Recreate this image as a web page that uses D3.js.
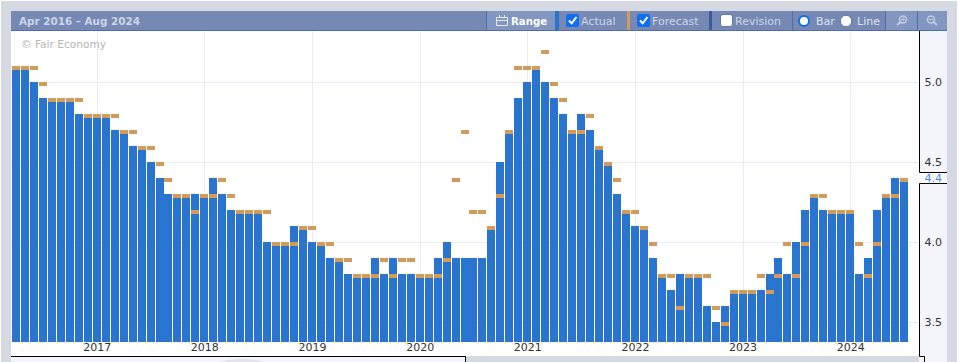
<!DOCTYPE html>
<html>
<head>
<meta charset="utf-8">
<script src="https://cdn.jsdelivr.net/npm/d3@7"></script>
<style>
html, body { margin: 0; padding: 0; background: #fff; overflow: hidden; }
svg { display: block; }
text { font-family: "DejaVu Sans", sans-serif; font-size: 11px; }
</style>
</head>
<body>
<svg id="chart" width="959" height="362"></svg>
<script>
// Apr 2016 .. Jul 2024, the Aug 2024 slot stays empty
const actual = [
    5.1, 5.1, 5.0, 4.9, 4.9, 4.9, 4.9, 4.8, 4.8, 4.8, 4.8, 4.7,
    4.7, 4.6, 4.6, 4.5, 4.4, 4.3, 4.3, 4.3, 4.3, 4.3, 4.4, 4.3,
    4.2, 4.2, 4.2, 4.2, 4.0, 4.0, 4.0, 4.1, 4.1, 4.0, 4.0, 3.9,
    3.9, 3.8, 3.8, 3.8, 3.9, 3.8, 3.9, 3.8, 3.8, 3.8, 3.8, 3.9,
    4.0, 3.9, 3.9, 3.9, 3.9, 4.1, 4.5, 4.7, 4.9, 5.0, 5.1, 5.0,
    4.9, 4.8, 4.7, 4.8, 4.7, 4.6, 4.5, 4.3, 4.2, 4.1, 4.1, 3.9,
    3.8, 3.7, 3.8, 3.8, 3.8, 3.6, 3.5, 3.6, 3.7, 3.7, 3.7, 3.7,
    3.8, 3.9, 3.8, 4.0, 4.2, 4.3, 4.2, 4.2, 4.2, 4.2, 3.8, 3.9,
    4.2, 4.3, 4.4, 4.4
];
const forecast = [
    5.1, 5.1, 5.1, 5.0, 4.9, 4.9, 4.9, 4.9, 4.8, 4.8, 4.8, 4.8,
    4.7, 4.7, 4.6, 4.6, 4.5, 4.4, 4.3, 4.3, 4.2, 4.3, 4.3, 4.4,
    4.3, 4.2, 4.2, 4.2, 4.2, 4.0, 4.0, 4.0, 4.1, 4.1, 4.0, 4.0,
    3.9, 3.9, 3.8, 3.8, 3.8, 3.9, 3.8, 3.9, 3.9, 3.8, 3.8, 3.8,
    3.9, 4.4, 4.7, 4.2, 4.2, 4.1, 4.3, 4.7, 5.1, 5.1, 5.1, 5.2,
    5.0, 4.9, 4.7, 4.7, 4.8, 4.6, 4.5, 4.4, 4.2, 4.2, 4.1, 4.0,
    3.8, 3.8, 3.6, 3.8, 3.8, 3.8, 3.6, 3.5, 3.7, 3.7, 3.7, 3.8,
    3.7, 3.8, 4.0, 3.8, 4.0, 4.3, 4.3, 4.2, 4.2, 4.2, 4.0, 3.8,
    4.0, 4.3, 4.3, 4.4
];
const yTicks = [3.5, 4.0, 4.5, 5.0];
const yearLabels = [2017, 2018, 2019, 2020, 2021, 2022, 2023, 2024];
const rangeLabel = "Apr 2016 \u2013 Aug 2024";

const months = d3.utcMonths(new Date(Date.UTC(2016, 3, 1)), new Date(Date.UTC(2024, 8, 1)));
const yearStarts = yearLabels.map(yr => d3.bisectLeft(months, new Date(Date.UTC(yr, 0, 1))));

const plot = { left: 12, right: 918, top: 31, bottom: 341.5, axis: 919, edge: 947, end: 356 };

const x = d3.scaleBand().domain(d3.range(months.length)).range([plot.left, plot.right]);
const y = d3.scaleLinear().domain([3.38, 5.32]).range([plot.bottom, plot.top + 0.1]);
const barW = 8;
const centre = i => x(i) + x.bandwidth() / 2;

const svg = d3.select("#chart");

function box(g, rx, ry, w, h, fill) {
    return g.append("rect").attr("x", rx).attr("y", ry).attr("width", w).attr("height", h).attr("fill", fill);
}
function label(g, tx, ty, str, fill, weight) {
    return g.append("text").attr("x", tx).attr("y", ty).attr("fill", fill)
        .attr("font-weight", weight || "normal").text(str);
}

// page + panel
const page = svg.append("g");
box(page, 1, 1, 956, 361, "#d5d9e2");
box(page, 11, 31, plot.axis - 11, plot.end - 31, "#fff");
box(page, plot.axis, 31, plot.edge - plot.axis, 331, "#f3f5fa");
box(page, 11, plot.end + 1, 454, 6, "#f3f5fa");
page.append("ellipse").attr("cx", 242).attr("cy", 365).attr("rx", 24).attr("ry", 6).attr("fill", "#e0e3ea");
page.append("path").attr("fill", "none").attr("stroke", "#000")
    .attr("d", "M11,356.5H465.5V362");

// grid
const grid = svg.append("g").attr("stroke", "#e9ebf5").attr("fill", "none");
yTicks.forEach(t => {
    const py = Math.floor(y(t)) + 0.5;
    grid.append("line").attr("x1", 11).attr("x2", plot.axis).attr("y1", py).attr("y2", py);
});
yearStarts.forEach(i => {
    const px = Math.floor(centre(i)) + 0.5;
    grid.append("line").attr("x1", px).attr("x2", px).attr("y1", 31).attr("y2", plot.bottom);
});

// actual bars
svg.append("g").selectAll("rect").data(actual).join("rect")
    .attr("x", (d, i) => Math.round(x(i)))
    .attr("y", d => Math.round(y(d)))
    .attr("width", barW)
    .attr("height", d => Math.round(plot.bottom) - Math.round(y(d)))
    .attr("fill", "#2974cf");

// forecast dashes
svg.append("g").selectAll("rect").data(forecast).join("rect")
    .attr("x", (d, i) => Math.round(x(i)))
    .attr("y", d => Math.round(y(d)))
    .attr("width", barW)
    .attr("height", 4)
    .attr("fill", "#d29b5c");

// x axis
const xAxis = d3.axisBottom(x).tickValues(yearStarts).tickSize(0).tickPadding(0)
    .tickFormat(i => months[i].getUTCFullYear());
svg.append("g").attr("transform", "translate(0,343.5)").call(xAxis)
    .call(g => g.select(".domain").remove())
    .call(g => g.selectAll("text").attr("fill", "#333").attr("dy", "0.71em")
        .style("font-family", "'DejaVu Sans', sans-serif").style("font-size", "11px"));

// y axis
const yAxis = d3.axisRight(y).tickValues(yTicks).tickSize(0).tickPadding(5.5).tickFormat(d3.format(".1f"));
svg.append("g").attr("transform", `translate(${plot.axis},0)`).call(yAxis)
    .call(g => g.select(".domain").remove())
    .call(g => g.selectAll("text").attr("fill", "#333")
        .style("font-family", "'DejaVu Sans', sans-serif").style("font-size", "11px"));

// axis border, broken by the latest-value tag
const last = actual[actual.length - 1];
const tagY = Math.round(y(last));
svg.append("rect").attr("x", plot.axis + 0.5).attr("y", tagY - 5).attr("width", plot.edge - plot.axis - 0.5).attr("height", 10).attr("fill", "#fff");
svg.append("path").attr("fill", "none").attr("stroke", "#000")
    .attr("d", `M${plot.axis + 0.5},31V${tagY - 5.5}H${plot.edge}M${plot.edge},${tagY + 5.5}H${plot.axis + 0.5}V${plot.end + 0.5}H924.5V362`);
label(svg, plot.axis + 5.5, tagY + 4, d3.format(".1f")(last), "#4a8be0");

label(svg, 21, 48, "\u00a9 Fair Economy", "#b5b5b5").style("font-size", "10.6px");

// toolbar
const bar = svg.append("g");
box(bar, 11, 11, plot.edge - 11, 19, "#7589b4");
box(bar, 11, 30, plot.edge - 11, 1, "#4d6dab");
box(bar, 487, 11, 68, 19, "#8196c0");
box(bar, 886, 11, 31, 19, "#8196c0");
box(bar, 918, 11, 29, 19, "#8196c0");
box(bar, 555, 11, 4, 19, "#2974cf");
box(bar, 627, 11, 3, 19, "#d29b5c");
box(bar, 709, 11, 3, 19, "#3c5b9b");
[486, 792, 885, 917].forEach(sx => box(bar, sx, 11, 1, 19, "#4d6dab"));

label(bar, 19, 25, rangeLabel, "#cdd5e6", "bold").style("font-size", "10.4px");
label(bar, 511, 25, "Range", "#fff", "bold").style("font-size", "10.2px");
label(bar, 581, 25, "Actual", "#cdd5e6");
label(bar, 652, 25, "Forecast", "#cdd5e6");
label(bar, 735, 25, "Revision", "#cdd5e6");
label(bar, 816, 25, "Bar", "#dde3f0");
label(bar, 857, 25, "Line", "#dde3f0");

// calendar icon
bar.append("path").attr("fill", "none").attr("stroke", "#e6eaf3")
    .attr("d", "M496.5,17.5H507.5V25.5H496.5ZM496.5,20.5H507.5M499.5,15V18M504.5,15V18");

// check boxes
[566, 637].forEach(cx => {
    bar.append("rect").attr("x", cx).attr("y", 14).attr("width", 13).attr("height", 13).attr("rx", 2.5).attr("fill", "#0f6ff0");
    bar.append("path").attr("fill", "none").attr("stroke", "#fff").attr("stroke-width", 2)
        .attr("d", `M${cx + 3},${20.5}l2.7,2.8l4.8,-6.3`);
});
bar.append("rect").attr("x", 720.5).attr("y", 14.5).attr("width", 12).attr("height", 12).attr("rx", 2.5)
    .attr("fill", "#fff").attr("stroke", "#68799e");

// radios
bar.append("circle").attr("cx", 804).attr("cy", 21).attr("r", 5).attr("fill", "#fff").attr("stroke", "#0f6ff0").attr("stroke-width", 2);
bar.append("circle").attr("cx", 846).attr("cy", 21).attr("r", 5.7).attr("fill", "#fff").attr("stroke", "#68799e");

// zoom icons, plus one has its handle to the left, minus one to the right
function glass(cx, minus, col) {
    bar.append("circle").attr("cx", cx).attr("cy", 19.5).attr("r", 3.5).attr("fill", "none").attr("stroke", col).attr("stroke-width", 1.6);
    bar.append("path").attr("fill", "none").attr("stroke", col).attr("stroke-width", 2)
        .attr("d", minus ? `M${cx + 2.5},22l3.5,3` : `M${cx - 2.5},22l-3.5,3`);
    bar.append("path").attr("fill", "none").attr("stroke", col)
        .attr("d", minus ? `M${cx - 2},19.5h4` : `M${cx - 2},19.5h4M${cx},17.5v4`);
}
glass(903, false, "#c3cde2");
glass(931, true, "#c3cde2");
</script>
</body>
</html>
